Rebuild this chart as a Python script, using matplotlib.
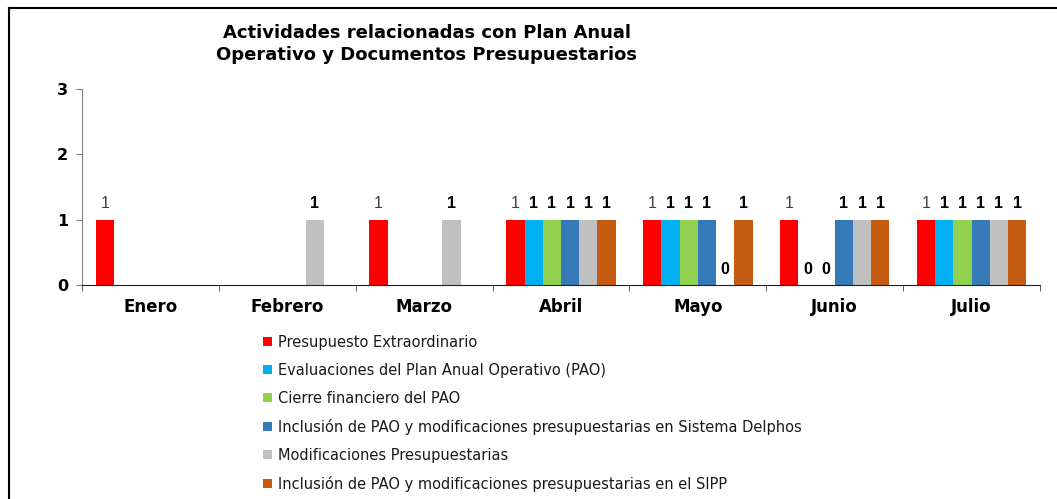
import matplotlib
matplotlib.use("Agg")
import matplotlib.pyplot as plt
import numpy as np
from matplotlib.patches import Patch
from matplotlib.lines import Line2D

plt.rcParams['font.family'] = ['DejaVu Sans']

months = ["Enero", "Febrero", "Marzo", "Abril", "Mayo", "Junio", "Julio"]
series_names = [
    "Presupuesto Extraordinario",
    "Evaluaciones del Plan Anual Operativo (PAO)",
    "Cierre financiero del PAO",
    "Inclusión de PAO y modificaciones presupuestarias en Sistema Delphos",
    "Modificaciones Presupuestarias",
    "Inclusión de PAO y modificaciones presupuestarias en el SIPP",
]
presupuesto_extra = [1, None, 1, 1, 1, 1, 1]
evaluaciones_pao = [None, None, None, 1, 1, 0, 1]
cierre_financiero = [None, None, None, 1, 1, 0, 1]
inclusion_delphos = [None, None, None, 1, 1, 1, 1]
modificaciones = [None, 1, 1, 1, 0, 1, 1]
inclusion_sipp = [None, None, None, 1, 1, 1, 1]
series_values = [presupuesto_extra, evaluaciones_pao, cierre_financiero,
                 inclusion_delphos, modificaciones, inclusion_sipp]
colors = ["#FF0000", "#00B0F0", "#92D050", "#3579B8", "#C0C0C0", "#C55A11"]

fig = plt.figure(figsize=(10.57, 4.99), dpi=100)
ax = fig.add_axes([82/1057, 1-285/499, (1040-82)/1057, (285-89)/499])

n = len(series_names)
group_w = 0.80
bw = group_w / n
x = np.arange(len(months))
for i, (vals, c) in enumerate(zip(series_values, colors)):
    xs = x - group_w/2 + bw*(i+0.5)
    for xi, v in zip(xs, vals):
        if v is None:
            continue
        ax.bar(xi, v, width=bw, color=c, edgecolor='none')
        if i == 0:
            ax.annotate(str(v), (xi, v), xytext=(0, 6), textcoords='offset points',
                        ha='center', va='bottom', fontsize=11.5, color='#404040',
                        family='Liberation Sans')
        else:
            ax.annotate(str(v), (xi, v), xytext=(0, 6), textcoords='offset points',
                        ha='center', va='bottom', fontsize=11.5, fontweight='bold', color='black',
                        family='Liberation Sans')

ax.set_xlim(-0.5, len(months)-0.5)
ax.set_ylim(0, 3)
ax.set_yticks([0, 1, 2, 3])
ax.set_xticks(x)
ax.set_xticklabels(months, fontsize=12, fontweight='bold')
ax.set_xticks(np.arange(len(months)+1)-0.5, minor=True)
ax.tick_params(axis='x', which='major', length=0, pad=9)
ax.tick_params(axis='x', which='minor', length=4, color='#404040', direction='out')
ax.tick_params(axis='y', length=4, color='#808080', labelsize=11.5, pad=6)
for lbl in ax.get_yticklabels():
    lbl.set_fontweight('bold')
for s in ['top', 'right']:
    ax.spines[s].set_visible(False)
ax.spines['left'].set_color('#808080')
ax.spines['bottom'].set_color('#202020')

fig.text(427/1057, 1-33/499, "Actividades relacionadas con Plan Anual", ha='center', va='center',
         fontsize=13, fontweight='bold')
fig.text(427/1057, 1-55/499, "Operativo y Documentos Presupuestarios", ha='center', va='center',
         fontsize=13, fontweight='bold')

handles = [Patch(facecolor=c, edgecolor='none') for c in colors]
leg = fig.legend(handles, series_names, loc='upper left', bbox_to_anchor=(263/1057, 1-335/499),
                 frameon=False, fontsize=10.5, handlelength=0.6, handleheight=0.6,
                 handletextpad=0.4, labelspacing=0.89, borderaxespad=0, borderpad=0)
for t in leg.get_texts():
    t.set_color('#1a1a1a')

fig.add_artist(Line2D([9/1057, 1], [1-8/499, 1-8/499], color='black', lw=1.5))
fig.add_artist(Line2D([9/1057, 9/1057], [0, 1-8/499], color='black', lw=1.5))

fig.savefig("out.png", dpi=100)
